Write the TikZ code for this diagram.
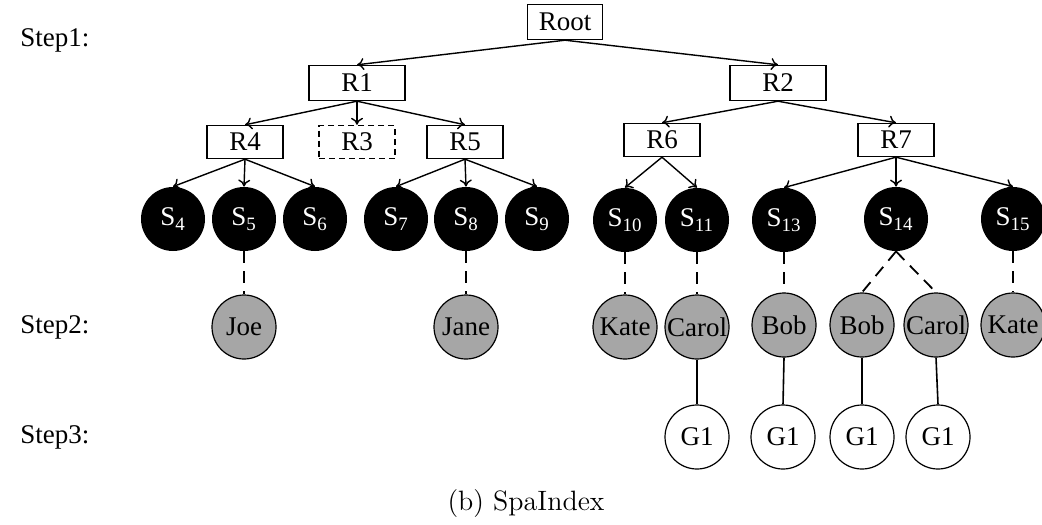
\documentclass[tikz,border=0pt]{standalone}
\usepackage{fontspec}
\newfontfamily\tnr{Liberation Serif}
\usetikzlibrary{arrows.meta}
\begin{document}
\begin{tikzpicture}[x=0.5pt,y=-0.5pt,
  every node/.style={font=\tnr\fontsize{13.5}{15}\selectfont},
  box/.style={draw, line width=0.7pt, minimum width=38pt, minimum height=16.5pt, inner sep=0pt},
  bigbox/.style={box, minimum width=48pt, minimum height=17.5pt},
  rootbox/.style={box, minimum width=37.5pt, minimum height=17.5pt},
  dbox/.style={box, dash pattern=on 3pt off 2pt},
  snode/.style={circle, fill=black, text=white, minimum size=32pt, inner sep=0pt},
  pnode/.style={circle, draw, fill=black!35, line width=0.6pt, minimum size=32pt, inner sep=0pt},
  gnode/.style={circle, draw, line width=0.6pt, minimum size=32pt, inner sep=0pt},
  arr/.style={-{To[length=3.5pt,width=6pt]}, line width=0.7pt},
  dline/.style={line width=0.9pt, dash pattern=on 6pt off 4pt},
  sline/.style={line width=0.8pt},
  steplabel/.style={anchor=west, inner sep=0pt}
]
\useasboundingbox (0,0) rectangle (1042,524);

% boxes
\node[rootbox] (root) at (565,22) {Root};
\node[bigbox] (r1) at (357,83) {R1};
\node[bigbox] (r2) at (778,83) {R2};
\node[box] (r4) at (245,142) {R4};
\node[dbox] (r3) at (357,142) {R3};
\node[box] (r5) at (465,142) {R5};
\node[box] (r6) at (662,140) {R6};
\node[box] (r7) at (896,140) {R7};

% spatial nodes
\node[snode] (s4) at (173,219) {S\textsubscript{4}};
\node[snode] (s5) at (244,219) {S\textsubscript{5}};
\node[snode] (s6) at (315,219) {S\textsubscript{6}};
\node[snode] (s7) at (396,219) {S\textsubscript{7}};
\node[snode] (s8) at (466,219) {S\textsubscript{8}};
\node[snode] (s9) at (537,219) {S\textsubscript{9}};
\node[snode] (s10) at (625,220) {S\textsubscript{10}};
\node[snode] (s11) at (697,220) {S\textsubscript{11}};
\node[snode] (s13) at (784,220) {S\textsubscript{13}};
\node[snode] (s14) at (896,219) {S\textsubscript{14}};
\node[snode] (s15) at (1013,219) {S\textsubscript{15}};

% people
\node[pnode] (joe) at (244,327) {Joe};
\node[pnode] (jane) at (466,327) {Jane};
\node[pnode] (kate) at (625,327) {Kate};
\node[pnode] (carol) at (697,327) {Carol};
\node[pnode] (bob) at (784,325) {Bob};
\node[pnode] (bob2) at (862,325) {Bob};
\node[pnode] (carol2) at (936,325) {Carol};
\node[pnode] (kate2) at (1013,325) {Kate};

% groups
\node[gnode] (g1) at (697,437) {G1};
\node[gnode] (g2) at (783,437) {G1};
\node[gnode] (g3) at (862,437) {G1};
\node[gnode] (g4) at (938,437) {G1};

% step labels
\node[steplabel] (st1) at (20,40) {Step1:};
\node[steplabel] (st2) at (20,327) {Step2:};
\node[steplabel] (st3) at (20,437) {Step3:};

% caption
\node[font=\fontsize{14}{16}\selectfont] (cap) at (526,504) {(b) SpaIndex};

% arrows
\draw[arr] (root.south) -- (r1.north);
\draw[arr] (root.south) -- (r2.north);
\draw[arr] (r1.south) -- (r4.north);
\draw[arr] (r1.south) -- (r3.north);
\draw[arr] (r1.south) -- (r5.north);
\draw[arr] (r2.south) -- (r6.north);
\draw[arr] (r2.south) -- (r7.north);
\draw[arr] (r4.south) -- (s4.north);
\draw[arr] (r4.south) -- (s5.north);
\draw[arr] (r4.south) -- (s6.north);
\draw[arr] (r5.south) -- (s7.north);
\draw[arr] (r5.south) -- (s8.north);
\draw[arr] (r5.south) -- (s9.north);
\draw[arr] (r6.south) -- (s10.north);
\draw[arr] (r6.south) -- (s11.north);
\draw[arr] (r7.south) -- (s13.north);
\draw[arr] (r7.south) -- (s14.north);
\draw[arr] (r7.south) -- (s15.north);

% dashed links
\draw[dline] (s5.south) -- (joe.north);
\draw[dline] (s8.south) -- (jane.north);
\draw[dline] (s10.south) -- (kate.north);
\draw[dline] (s11.south) -- (carol.north);
\draw[dline] (s13.south) -- (bob.north);
\draw[dline] (s14.south) -- (bob2.north);
\draw[dline] (s14.south) -- (carol2.north);
\draw[dline] (s15.south) -- (kate2.north);

% solid links
\draw[sline] (carol.south) -- (g1.north);
\draw[sline] (bob.south) -- (g2.north);
\draw[sline] (bob2.south) -- (g3.north);
\draw[sline] (carol2.south) -- (g4.north);
\end{tikzpicture}
\end{document}
